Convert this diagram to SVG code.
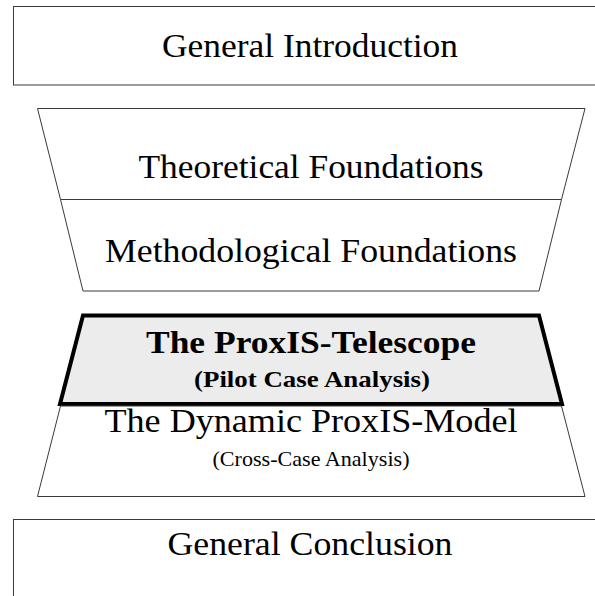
<svg xmlns="http://www.w3.org/2000/svg" width="595" height="596" viewBox="0 0 595 596">
<style>
.box{fill:#ffffff;stroke:#3a3a3a;stroke-width:1}
.hl{fill:#ececec;stroke:#000000;stroke-width:4;stroke-linejoin:miter}
.t{font-family:"Liberation Serif","Times New Roman",serif;font-size:33px;fill:#000000;text-anchor:middle}
.b{font-weight:bold}
</style>
<rect width="595" height="596" fill="#ffffff"/>
<g id="general-introduction">
<rect class="box" x="13.5" y="6.5" width="600" height="78.5"/>
<text class="t" x="310" y="57" textLength="296" lengthAdjust="spacingAndGlyphs">General Introduction</text>
</g>
<g id="theoretical-foundations">
<polygon class="box" points="37.5,108.5 585,108.5 561.5,199.5 60.5,199.5"/>
<text class="t" x="311" y="178" textLength="345" lengthAdjust="spacingAndGlyphs">Theoretical Foundations</text>
</g>
<g id="methodological-foundations">
<polygon class="box" points="60.5,199.5 561.5,199.5 539,291 83,291"/>
<text class="t" x="311" y="262" textLength="412" lengthAdjust="spacingAndGlyphs">Methodological Foundations</text>
</g>
<g id="proxis-telescope">
<polygon class="hl" points="83,315.5 539,315.5 562,404 60,404"/>
<text class="t b" x="311" y="353" style="font-size:31px" textLength="330" lengthAdjust="spacingAndGlyphs">The ProxIS-Telescope</text>
<text class="t b" x="312" y="387" style="font-size:23px" textLength="236" lengthAdjust="spacingAndGlyphs">(Pilot Case Analysis)</text>
</g>
<g id="dynamic-proxis-model">
<polygon class="box" points="60.5,406 561.5,406 585,496.5 37.5,496.5"/>
<text class="t" x="311" y="432" textLength="413" lengthAdjust="spacingAndGlyphs">The Dynamic ProxIS-Model</text>
<text class="t" x="311" y="466" style="font-size:22px" textLength="197" lengthAdjust="spacingAndGlyphs">(Cross-Case  Analysis)</text>
</g>
<g id="general-conclusion">
<rect class="box" x="13.5" y="519.5" width="600" height="100"/>
<text class="t" x="310" y="555" textLength="285" lengthAdjust="spacingAndGlyphs">General Conclusion</text>
</g>
</svg>
